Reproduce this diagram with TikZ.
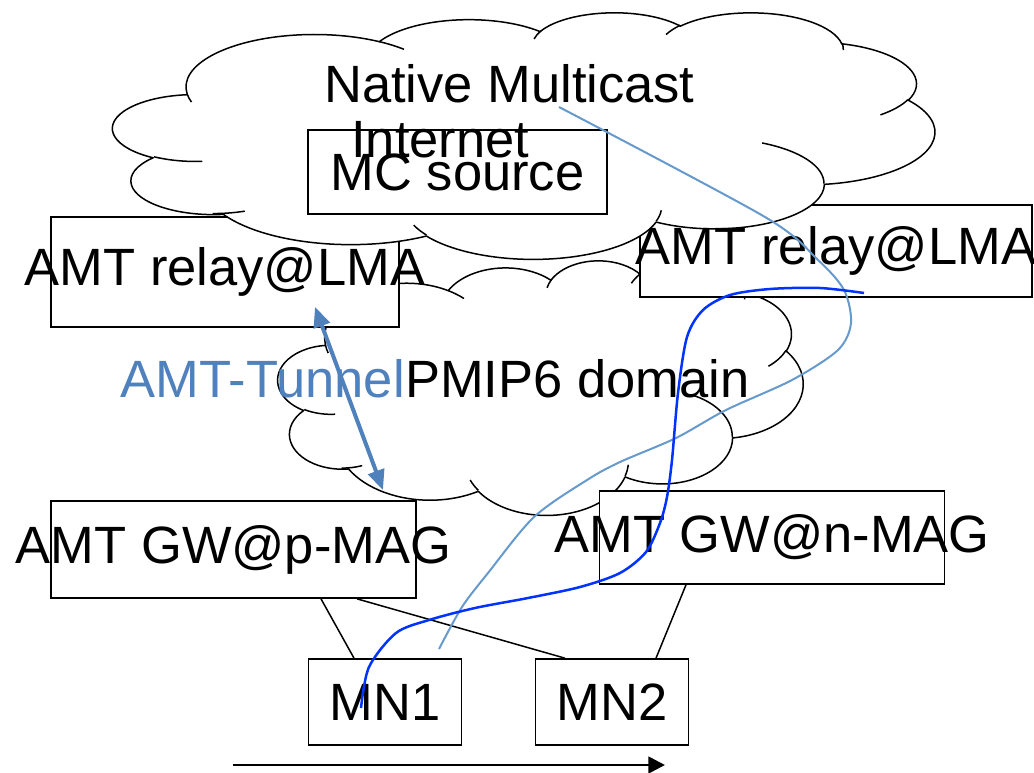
\documentclass[tikz,border=0pt]{standalone}
\usepackage{fontspec}
\setmainfont{Liberation Sans}
\usetikzlibrary{arrows.meta}

\definecolor{tunnelblue}{RGB}{79,129,189}
\definecolor{pathblue}{RGB}{102,153,204}
\definecolor{moveblue}{RGB}{0,51,255}

\newcommand{\pxu}{0.3mm}

% cloud as in the slide: left, top, width, height (px)
\newcommand{\pptcloud}[4]{%
  \pgfmathsetmacro{\cldw}{#3*0.003}%
  \pgfmathsetmacro{\cldh}{#4*0.003}%
  \begin{scope}[shift={(#1,#2)}, x=\cldw mm, y=-\cldh mm]
    \draw[cloudline, fill=white] (9.028,33.264)
      \foreach \rx/\ry/\ang/\swp [evaluate=\ang as \tst using {atan2(\rx*sin(\ang),\ry*cos(\ang))},
                                  evaluate=\swp as \tdl using {mod(atan2(\rx*sin(\ang+\swp),\ry*cos(\ang+\swp))-\tst+720,360)}]
      in {15.632/21.273/-190.487/123.781, 12.345/16.822/-144.102/89.945,
          10.104/13.762/-145.808/99.723, 11.243/15.266/-130.986/117.242,
          12.345/16.836/-78.709/109.027, 15.683/21.343/-46.267/130.269,
          13.391/18.211/0.625/114.033, 15.630/21.331/22.452/115.173,
          17.870/24.405/66.243/75.711, 10.093/13.699/-274.942/146.736,
          10.058/13.762/-246.829/152.519}
      { arc[x radius=\rx, y radius=\ry, start angle=\tst, delta angle=\tdl] } -- cycle;
    % inner folds
    \foreach \ax/\ay/\rx/\ry/\ang/\swp [evaluate=\ang as \tst using {atan2(\rx*sin(\ang),\ry*cos(\ang))},
                                        evaluate=\swp as \tdl using {mod(atan2(\rx*sin(\ang+\swp),\ry*cos(\ang+\swp))-\tst+720,360)}]
      in {10.863/60.595/10.058/13.762/86.742/26.430, 16.037/80.785/10.093/13.699/73.610/17.142,
          38.144/90.486/15.630/21.331/137.624/14.081, 66.729/80.442/15.630/21.331/6.453/15.998,
          79.002/53.134/13.391/18.211/-70.292/70.917, 96.755/35.542/12.345/16.836/30.318/27.752,
          88.713/12.560/11.243/15.266/-13.744/14.859, 67.310/9.148/11.243/15.266/-149.181/18.195,
          51.252/10.926/10.104/13.762/-163.494/17.686, 32.407/12.019/15.632/21.273/-66.707/12.319,
          9.553/36.549/15.632/21.273/157.654/11.858}
      \draw[cloudline] (\ax,\ay) arc[x radius=\rx, y radius=\ry, start angle=\tst, delta angle=\tdl];
  \end{scope}}

\begin{document}
\begin{tikzpicture}[x=0.3mm, y=-0.3mm,
    cloudline/.style={line width=0.45mm, line join=round},
    box/.style={draw, fill=white, line width=0.5mm, inner sep=0pt},
    txt/.style={font=\fontsize{44.8pt}{54pt}\selectfont, inner sep=0pt},
    link/.style={line width=0.45mm}]
  \useasboundingbox (0,0) rectangle (1034,772);

  % PMIP6 domain
  \pptcloud{278}{260}{524}{254}

  \node[box, minimum width=348*\pxu, minimum height=110*\pxu] (relayL) at (225,272) {};
  \node[box, minimum width=392*\pxu, minimum height=92*\pxu] (relayR) at (836,251) {};
  \node[box, minimum width=365*\pxu, minimum height=97*\pxu] (gwP) at (233.5,549.5) {};
  \node[box, minimum width=345*\pxu, minimum height=93*\pxu] (gwN) at (772,537.5) {};
  \node[box, minimum width=153*\pxu, minimum height=86*\pxu] (mn1) at (385,702) {};
  \node[box, minimum width=153*\pxu, minimum height=86*\pxu] (mn2) at (612,702) {};

  % native multicast internet
  \pptcloud{113}{12}{820}{246}
  \node[box, minimum width=299*\pxu, minimum height=84*\pxu] (mcsrc) at (457.5,172) {};

  \node[txt, anchor=base west] (nmc) at (324,102) {Native Multicast};
  \node[txt, anchor=base west] (inet) at (351,157) {Internet};
  \node[txt] at (mcsrc) {MC source};
  \node[txt] at (relayL) {AMT relay@LMA};
  \node[txt] at (relayR) {AMT relay@LMA};
  \node[txt] at (gwP) {AMT GW@p-MAG};
  \node[txt] at (gwN) {AMT GW@n-MAG};
  \node[txt] at (mn1) {MN1};
  \node[txt] at (mn2) {MN2};
  \node[txt, anchor=base east, text=tunnelblue] (tunlbl) at (405,397) {AMT-Tunnel};
  \node[txt, anchor=base west] (pmiplbl) at (405,397) {PMIP6 domain};

  % attachments
  \draw[link] ([xshift=87.5*\pxu]gwP.south) -- ([xshift=-31*\pxu]mn1.north);
  \draw[link] ([xshift=123.5*\pxu]gwP.south) -- ([xshift=-47*\pxu]mn2.north);
  \draw[link] ([xshift=-86*\pxu]gwN.south) -- ([xshift=44*\pxu]mn2.north);

  % tunnel
  \coordinate (tunA) at (315,307);
  \coordinate (tunB) at (383,490);
  \draw[tunnelblue, line width=1.2mm, {Triangle[length=6mm,width=5mm]}-{Triangle[length=6mm,width=5mm]}] (tunA) -- (tunB);

  % multicast path and movement
  \draw[pathblue, line width=0.6mm] plot[smooth] coordinates {(559,107) (765,217) (818,260) (844,290) (851,323) (838,350) (792,380) (726,410) (676,438) (620,462) (587,480) (534,517) (488,573) (462,607) (439,649)};
  \draw[moveblue, line width=0.75mm] plot[smooth] coordinates {(361,708) (369,667) (396,633) (429,620) (475,608) (528,598) (580,587) (620,573) (646,552) (660,523) (667,497) (672,460) (678,393) (687,337) (703,310) (730,295) (770,289) (820,288) (864,293)};

  \coordinate (mv0) at (233,765);
  \coordinate (mv1) at (665,765);
  \draw[line width=0.8mm, -{Triangle[length=5mm,width=5mm]}] (mv0) -- (mv1);
\end{tikzpicture}
\end{document}
